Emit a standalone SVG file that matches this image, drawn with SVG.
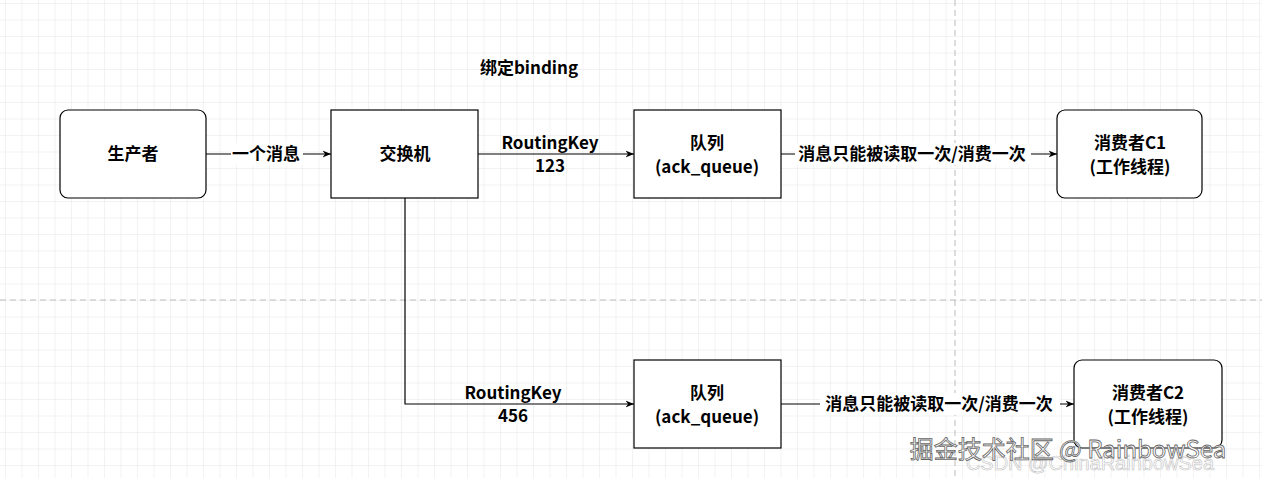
<svg xmlns="http://www.w3.org/2000/svg" width="1262" height="478" viewBox="0 0 1262 478">
<defs>
<pattern id="g" width="16.5" height="16.5" patternUnits="userSpaceOnUse" x="5" y="3">
<path d="M0 0H16.5M0 0V16.5" fill="none" stroke="#e6e6e6" stroke-width="1"/>
</pattern>
<marker id="a" viewBox="0 0 10 10" refX="10" refY="5" markerWidth="7" markerHeight="7" orient="auto"><path d="M0 1L10 5L0 9L3 5Z" fill="#000"/></marker>
<style>
.b{fill:#fff;stroke:#000;stroke-width:1.2}
.t{font-family:"Noto Sans CJK SC","Liberation Sans",sans-serif;font-size:17px;font-weight:bold;text-anchor:middle;fill:#000}
.e{fill:none;stroke:#000;stroke-width:1.2;marker-end:url(#a)}
.lb{fill:#fff}
</style>
</defs>
<rect width="1262" height="478" fill="#fff"/>
<rect width="1262" height="478" fill="url(#g)"/>
<path d="M0 300H1262M955 0V478" stroke="#bbb" stroke-dasharray="6 4" fill="none"/>
<g id="edges">
<path class="e" d="M206 154H331"/>
<rect class="lb" x="231" y="143" width="72" height="22"/>
<text class="t" x="266" y="160">一个消息</text>
<path class="e" d="M478 154H634"/>
<text class="t" x="550" y="149">RoutingKey</text>
<text class="t" x="550" y="172">123</text>
<path class="e" d="M781 154H1057"/>
<rect class="lb" x="795" y="143" width="236" height="22"/>
<text class="t" x="912" y="160">消息只能被读取一次/消费一次</text>
<path class="e" d="M405 198V404H634"/>
<text class="t" x="513" y="399">RoutingKey</text>
<text class="t" x="513" y="422">456</text>
<path class="e" d="M781 404H1074"/>
<rect class="lb" x="820" y="393" width="240" height="22"/>
<text class="t" x="939" y="410">消息只能被读取一次/消费一次</text>
</g>
<text class="t" x="529" y="74">绑定binding</text>
<g id="producer"><rect class="b" x="60" y="110" width="146" height="88" rx="8"/><text class="t" x="133" y="160">生产者</text></g>
<g id="exchange"><rect class="b" x="331" y="110" width="147" height="88"/><text class="t" x="405" y="160">交换机</text></g>
<g id="queue1"><rect class="b" x="634" y="110" width="147" height="88"/><text class="t" x="707" y="149">队列</text><text class="t" x="707" y="173">(ack_queue)</text></g>
<g id="c1"><rect class="b" x="1057" y="110" width="145" height="88" rx="8"/><text class="t" x="1130" y="149">消费者C1</text><text class="t" x="1130" y="173">(工作线程)</text></g>
<g id="queue2"><rect class="b" x="634" y="360" width="147" height="88"/><text class="t" x="707" y="399">队列</text><text class="t" x="707" y="423">(ack_queue)</text></g>
<g id="c2"><rect class="b" x="1074" y="360" width="148" height="88" rx="8"/><text class="t" x="1148" y="399">消费者C2</text><text class="t" x="1148" y="423">(工作线程)</text></g>
<text x="1090" y="470" font-family="Liberation Sans,sans-serif" font-size="20" fill="#fff" stroke="#bbb" stroke-width="0.6" text-anchor="middle" opacity="0.9">CSDN @ChinaRainbowSea</text>
<text x="1068" y="458" font-family="Noto Sans CJK SC,Liberation Sans,sans-serif" font-size="24" fill="#fff" stroke="#666" stroke-width="0.8" text-anchor="middle">掘金技术社区 @ RainbowSea</text>
</svg>
